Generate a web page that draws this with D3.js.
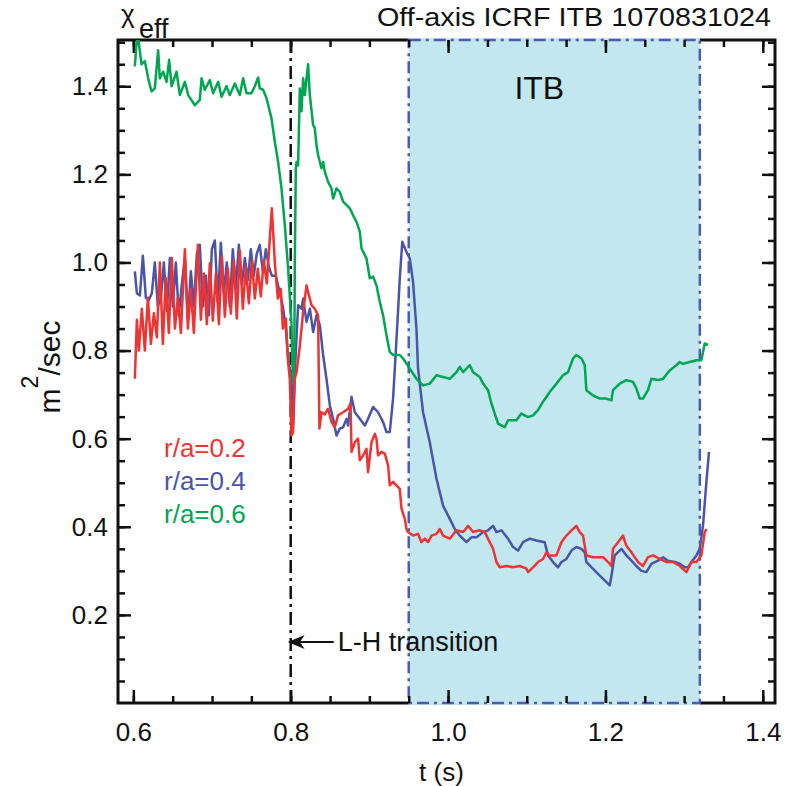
<!DOCTYPE html>
<html>
<head>
<meta charset="utf-8">
<script src="https://cdn.jsdelivr.net/npm/d3@7"></script>
<style>
body { margin: 0; background: #fff; }
text { font-family: "Liberation Sans", Arial, sans-serif; fill: #111; }
</style>
</head>
<body>
<div id="chart"></div>
<script>
let width = 788, height = 786;
let margin = {left: 118, right: 13, top: 40, bottom: 83};

// axis ticks
const xTicks = [0.6, 0.8, 1.0, 1.2, 1.4];
const yTicks = [0.2, 0.4, 0.6, 0.8, 1.0, 1.2, 1.4];
const xMinor = [0.6, 0.65, 0.7, 0.75, 0.8, 0.85, 0.9, 0.95, 1.0, 1.05, 1.1, 1.15, 1.2, 1.25, 1.3, 1.35, 1.4];
const yMinor = [0.05, 0.1, 0.15, 0.2, 0.25, 0.3, 0.35, 0.4, 0.45, 0.5, 0.55, 0.6, 0.65, 0.7, 0.75, 0.8, 0.85, 0.9, 0.95, 1.0, 1.05, 1.1, 1.15, 1.2, 1.25, 1.3, 1.35, 1.4, 1.45, 1.5];

// events
const lhTime = 0.8;
const itbWindow = [0.95, 1.32];

const seriesLabels = ["r/a=0.2", "r/a=0.4", "r/a=0.6"];
const seriesColors = ["#ee3333", "#4a55a8", "#00a651"];

// chi_eff (m^2/sec) vs t (s)
const red02 = [
  [.6019,.736],[.6045,.87],[.6070,.80],[.6108,.895],[.6146,.80],[.6185,.92],[.6223,.815],[.6261,.885],
  [.6299,.83],[.6337,1.0],[.6375,.815],[.6413,.965],[.6451,.84],[.6489,1.01],[.6528,.85],[.6566,.92],
  [.6604,.84],[.6655,1.03],[.6693,.85],[.6731,.94],[.6769,.84],[.6820,1.04],[.6858,.87],[.6896,.975],
  [.6934,.86],[.6972,.998],[.7010,.868],[.7049,.975],[.7087,.86],[.7125,1.014],[.7163,.877],[.7201,.986],
  [.7239,.884],[.7277,1.005],[.7315,.873],[.7353,1.027],[.7391,.895],[.7430,.99],[.7468,.907],[.7506,1.005],
  [.7544,.918],[.7582,.986],[.7620,.923],[.7658,1.005],[.7696,.952],[.7760,1.123],[.7798,1.0],[.7836,.918],
  [.7874,.94],[.7900,.85],[.7938,.873],[.7967,.774],[.7988,.736],[.8010,.607],[.8030,.615],[.8052,.736],
  [.8074,.751],[.8116,.811],[.8158,.888],[.8201,.948],[.8221,.933],[.8265,.903],[.8306,.895],[.8348,.88],
  [.8365,.623],[.8391,.66],[.8433,.655],[.8475,.668],[.8518,.638],[.8560,.626],[.8602,.653],[.8666,.66],
  [.8729,.668],[.8760,.68],[.8773,.57],[.8815,.592],[.8856,.60],[.8878,.551],[.8920,.562],[.8963,.577],
  [.8983,.524],[.9027,.592],[.9069,.611],[.9090,.60],[.9110,.562],[.9154,.57],[.9196,.566],[.9238,.539],
  [.9259,.494],[.9301,.502],[.9344,.494],[.9386,.486],[.9408,.441],[.9450,.418],[.9471,.395],[.9491,.388],
  [.9555,.38],[.9618,.384],[.9661,.365],[.9704,.373],[.9746,.365],[.9789,.38],[.9853,.384],[.9895,.395],
  [.9936,.38],[1.0022,.373],[1.0107,.392],[1.0191,.388],[1.0254,.402],[1.0318,.388],[1.0403,.392],[1.0466,.388],
  [1.0530,.365],[1.0572,.35],[1.0615,.32],[1.0657,.308],[1.0742,.311],[1.0826,.308],[1.0911,.311],[1.0996,.305],
  [1.1016,.297],[1.1080,.308],[1.1143,.32],[1.1207,.327],[1.1250,.342],[1.1292,.335],[1.1377,.335],[1.1441,.365],
  [1.1504,.38],[1.1588,.395],[1.1631,.402],[1.1673,.388],[1.1715,.38],[1.1758,.335],[1.1842,.331],[1.1970,.331],
  [1.2033,.32],[1.2076,.311],[1.2096,.35],[1.2160,.365],[1.2223,.38],[1.2266,.357],[1.2330,.342],[1.2414,.32],
  [1.2477,.311],[1.2541,.331],[1.2605,.335],[1.2690,.327],[1.2775,.32],[1.2859,.32],[1.2944,.311],[1.3029,.297],
  [1.3093,.32],[1.3156,.32],[1.3219,.335],[1.3262,.388],[1.3283,.395]
];

const blue04 = [
  [.6019,.98],[.6045,.93],[.6083,.925],[.6121,1.015],[.6159,.92],[.6197,.915],[.6235,.93],[.6273,1.0],
  [.6311,.90],[.6350,.92],[.6388,1.0],[.6426,.89],[.6464,1.01],[.6502,.90],[.6540,1.0],[.6578,.88],
  [.6616,.95],[.6655,1.01],[.6693,.87],[.6731,.98],[.6769,.90],[.6807,1.02],[.6845,1.04],[.6883,.90],
  [.6921,.97],[.6960,.88],[.6998,1.03],[.7036,1.05],[.7074,.91],[.7112,1.045],[.7150,.93],[.7188,1.0],
  [.7226,.90],[.7264,1.03],[.7302,.94],[.7341,1.04],[.7379,.95],[.7417,1.01],[.7455,.96],[.7493,1.03],
  [.7531,.97],[.7569,1.02],[.7607,1.04],[.7645,.98],[.7684,1.03],[.7722,.99],[.7760,.97],[.7811,.97],
  [.7862,.93],[.7900,.90],[.7938,.85],[.7967,.78],[.8010,.736],[.8030,.63],[.8052,.75],[.8094,.903],
  [.8137,.895],[.8158,.918],[.8201,.865],[.8243,.895],[.8285,.842],[.8328,.88],[.8370,.858],[.8412,.79],
  [.8454,.736],[.8497,.676],[.8539,.645],[.8582,.607],[.8624,.623],[.8666,.626],[.8709,.645],[.8729,.63],
  [.8773,.695],[.8815,.66],[.8878,.645],[.8942,.63],[.8983,.645],[.9047,.672],[.9110,.66],[.9174,.638],
  [.9217,.615],[.9259,.615],[.9301,.691],[.9323,.759],[.9364,.888],[.9386,.964],[.9418,1.047],[.9471,1.024],
  [.9513,1.009],[.9555,.956],[.9598,.85],[.9618,.76],[.9682,.66],[.9767,.592],[.9853,.509],[.9936,.448],
  [1.0022,.418],[1.0085,.395],[1.0149,.38],[1.0234,.365],[1.0297,.376],[1.0361,.376],[1.0445,.388],[1.0508,.392],
  [1.0572,.402],[1.0615,.388],[1.0678,.392],[1.0762,.373],[1.0826,.354],[1.0889,.346],[1.0953,.365],[1.1038,.373],
  [1.1123,.369],[1.1228,.365],[1.1270,.335],[1.1334,.32],[1.1397,.308],[1.1441,.32],[1.1504,.327],[1.1568,.346],
  [1.1631,.354],[1.1695,.35],[1.1737,.342],[1.1758,.32],[1.1906,.293],[1.2055,.267],[1.2076,.289],[1.2118,.335],
  [1.2203,.35],[1.2266,.335],[1.2330,.323],[1.2393,.311],[1.2457,.30],[1.2520,.297],[1.2584,.316],[1.2668,.323],
  [1.2732,.331],[1.2795,.323],[1.2881,.32],[1.2944,.316],[1.3008,.308],[1.3050,.308],[1.3093,.32],[1.3156,.335],
  [1.3198,.35],[1.3240,.402],[1.3283,.502],[1.3316,.57]
];

const green06 = [
  [.6019,1.445],[.6041,1.50],[.6061,1.51],[.6104,1.45],[.6146,1.457],[.6189,1.418],[.6231,1.388],[.6273,1.395],
  [.6315,1.482],[.6337,1.418],[.6379,1.433],[.6422,1.41],[.6455,1.46],[.6486,1.40],[.6549,1.433],[.6591,1.38],
  [.6655,1.41],[.6697,1.38],[.6782,1.357],[.6845,1.369],[.6867,1.418],[.6909,1.392],[.6972,1.414],[.7014,1.384],
  [.7078,1.41],[.7121,1.376],[.7184,1.40],[.7226,1.38],[.7290,1.406],[.7353,1.38],[.7395,1.418],[.7439,1.384],
  [.7502,1.384],[.7544,1.40],[.7586,1.42],[.7607,1.395],[.7649,1.392],[.7692,1.373],[.7756,1.327],[.7798,1.274],
  [.7840,1.228],[.7883,1.168],[.7925,1.085],[.7967,.986],[.8010,.86],[.8020,.77],[.8030,.73],[.8046,.78],
  [.8052,1.0],[.8065,1.214],[.8074,1.228],[.8094,1.22],[.8116,1.395],[.8137,1.343],[.8158,1.418],[.8179,1.38],
  [.8221,1.45],[.8243,1.38],[.8285,1.312],[.8306,1.305],[.8328,1.266],[.8348,1.244],[.8391,1.214],[.8412,1.228],
  [.8433,1.206],[.8475,1.183],[.8518,1.168],[.8539,1.145],[.8582,1.168],[.8624,1.16],[.8666,1.138],[.8751,1.123],
  [.8793,1.107],[.8836,1.092],[.8878,1.07],[.8900,1.032],[.8963,1.009],[.9005,.964],[.9047,.968],[.9090,.948],
  [.9132,.911],[.9174,.88],[.9217,.835],[.9259,.797],[.9301,.79],[.9386,.79],[.9428,.782],[.9513,.759],
  [.9598,.736],[.9682,.721],[.9767,.725],[.9853,.744],[.9936,.74],[1.0022,.736],[1.0107,.751],[1.0149,.763],
  [1.0191,.751],[1.0276,.767],[1.0318,.751],[1.0403,.74],[1.0445,.725],[1.0508,.71],[1.0551,.68],[1.0593,.657],
  [1.0635,.634],[1.0720,.626],[1.0762,.642],[1.0869,.642],[1.0932,.657],[1.1016,.649],[1.1080,.653],[1.1143,.665],
  [1.1207,.684],[1.1292,.706],[1.1377,.725],[1.1461,.744],[1.1525,.751],[1.1588,.782],[1.1631,.79],[1.1695,.782],
  [1.1737,.767],[1.1758,.71],[1.1842,.698],[1.1928,.691],[1.2013,.691],[1.2076,.687],[1.2096,.71],[1.2182,.725],
  [1.2266,.733],[1.2350,.729],[1.2393,.714],[1.2436,.691],[1.2477,.691],[1.2541,.71],[1.2584,.736],[1.2668,.733],
  [1.2732,.736],[1.2817,.755],[1.2902,.767],[1.2944,.774],[1.2986,.77],[1.3071,.774],[1.3156,.778],[1.3219,.778],
  [1.3262,.816],[1.3304,.813]
];

let svg = d3.select("#chart")
    .append("svg")
    .attr("width", width)
    .attr("height", height);

let x = d3.scaleLinear()
    .domain([0.5805, 1.4155])
    .range([margin.left, width - margin.right]);
let y = d3.scaleLinear()
    .domain([0, 1.505])
    .range([height - margin.bottom, margin.top]);

let x0 = x.range()[0], x1 = x.range()[1];
let y0 = y.range()[0], y1 = y.range()[1];

// frame
svg.append("rect")
    .attr("x", x0).attr("y", y1)
    .attr("width", x1 - x0).attr("height", y0 - y1)
    .attr("fill", "none")
    .attr("stroke", "#111")
    .attr("stroke-width", 3);

// ITB shading (covers the frame line), then its dash-dot border
svg.append("rect")
    .attr("x", x(itbWindow[0])).attr("y", y1 - 2)
    .attr("width", x(itbWindow[1]) - x(itbWindow[0]))
    .attr("height", y0 - y1 + 4)
    .attr("fill", "#c2e7ee");
svg.append("rect")
    .attr("x", x(itbWindow[0])).attr("y", y1)
    .attr("width", x(itbWindow[1]) - x(itbWindow[0]))
    .attr("height", y0 - y1)
    .attr("fill", "none")
    .attr("stroke", "#4d5cae")
    .attr("stroke-width", 2.5)
    .attr("stroke-dasharray", "12,5,3,5");

// ticks, all pointing inward
function styleAxis(g){
    g.select(".domain").remove();
    g.selectAll("line").attr("stroke", "#111").attr("stroke-width", 2.5);
    g.selectAll("text").attr("font-size", 26).attr("fill", "#111")
        .attr("font-family", "Liberation Sans, Arial, sans-serif");
}
let fmt = d3.format(".1f");

svg.append("g").attr("transform", `translate(0,${y0})`)
    .call(d3.axisBottom(x).tickValues(xMinor).tickSize(-7).tickFormat("")).call(styleAxis);
svg.append("g").attr("transform", `translate(0,${y0})`)
    .call(d3.axisBottom(x).tickValues(xTicks).tickSizeInner(-13).tickSizeOuter(0).tickPadding(20).tickFormat(fmt))
    .call(styleAxis);
svg.append("g").attr("transform", `translate(0,${y1})`)
    .call(d3.axisTop(x).tickValues(xMinor).tickSize(-7).tickFormat("")).call(styleAxis);
svg.append("g").attr("transform", `translate(0,${y1})`)
    .call(d3.axisTop(x).tickValues(xTicks).tickSize(-13).tickFormat("")).call(styleAxis);

svg.append("g").attr("transform", `translate(${x0},0)`)
    .call(d3.axisLeft(y).tickValues(yMinor).tickSize(-7).tickFormat("")).call(styleAxis);
svg.append("g").attr("transform", `translate(${x0},0)`)
    .call(d3.axisLeft(y).tickValues(yTicks).tickSizeInner(-13).tickSizeOuter(0).tickPadding(10).tickFormat(fmt))
    .call(styleAxis);
svg.append("g").attr("transform", `translate(${x1},0)`)
    .call(d3.axisRight(y).tickValues(yMinor).tickSize(-7).tickFormat("")).call(styleAxis);
svg.append("g").attr("transform", `translate(${x1},0)`)
    .call(d3.axisRight(y).tickValues(yTicks).tickSize(-13).tickFormat("")).call(styleAxis);

// L-H transition marker
svg.append("line")
    .attr("x1", x(lhTime)).attr("x2", x(lhTime))
    .attr("y1", y1).attr("y2", y0)
    .attr("stroke", "#111")
    .attr("stroke-width", 2.5)
    .attr("stroke-dasharray", "13,5,3,5");

// curves
svg.append("clipPath").attr("id", "plotclip")
    .append("rect")
    .attr("x", x0).attr("y", y1)
    .attr("width", x1 - x0).attr("height", y0 - y1);

let line = d3.line()
    .x(d => x(d[0]))
    .y(d => y(d[1]));

let allSeries = [blue04, green06, red02];
let allColors = [seriesColors[1], seriesColors[2], seriesColors[0]];
svg.append("g").attr("clip-path", "url(#plotclip)")
    .selectAll("path")
    .data(allSeries)
    .enter()
    .append("path")
    .attr("d", line)
    .attr("fill", "none")
    .attr("stroke", (d, i) => allColors[i])
    .attr("stroke-width", 2.5)
    .attr("stroke-linejoin", "round");

// legend
svg.selectAll(".legend")
    .data(seriesLabels)
    .enter()
    .append("text")
    .attr("class", "legend")
    .attr("x", 164)
    .attr("y", (d, i) => 457 + i * 33)
    .attr("font-size", 26)
    .style("fill", (d, i) => seriesColors[i])
    .text(d => d);

// annotation arrow
let ay = 642, ax = x(lhTime) - 3;
svg.append("line")
    .attr("x1", ax + 10).attr("x2", ax + 46)
    .attr("y1", ay).attr("y2", ay)
    .attr("stroke", "#111").attr("stroke-width", 2);
svg.append("path")
    .attr("d", `M${ax},${ay} L${ax + 17},${ay - 7} L${ax + 12},${ay} L${ax + 17},${ay + 7} Z`)
    .attr("fill", "#111");
svg.append("text")
    .attr("x", ax + 50).attr("y", ay + 9)
    .attr("font-size", 27)
    .text("L-H transition");

// ITB label
svg.append("text")
    .attr("x", (x(itbWindow[0]) + x(itbWindow[1])) / 2 - 15)
    .attr("y", 99)
    .attr("text-anchor", "middle")
    .attr("font-size", 32)
    .text("ITB");

// title & chi_eff
svg.append("text")
    .attr("x", 771).attr("y", 26)
    .attr("text-anchor", "end")
    .attr("font-size", 25)
    .attr("textLength", 394)
    .attr("lengthAdjust", "spacingAndGlyphs")
    .text("Off-axis ICRF ITB 1070831024");

let chi = svg.append("text").attr("x", 121).attr("y", 23).attr("font-size", 26);
chi.append("tspan").text("\u03c7");
chi.append("tspan").attr("x", 139).attr("y", 38).attr("font-size", 27).text("eff");

// axis titles
svg.append("text")
    .attr("x", (x0 + x1) / 2 - 5)
    .attr("y", 781)
    .attr("text-anchor", "middle")
    .attr("font-size", 26)
    .text("t (s)");

let yl = svg.append("text")
    .attr("transform", "translate(60,367) rotate(-90)")
    .attr("text-anchor", "middle")
    .attr("font-size", 30);
yl.append("tspan").text("m");
yl.append("tspan").attr("dy", -22).attr("font-size", 23).text("2");
yl.append("tspan").attr("dy", 22).text("/sec");
</script>
</body>
</html>
